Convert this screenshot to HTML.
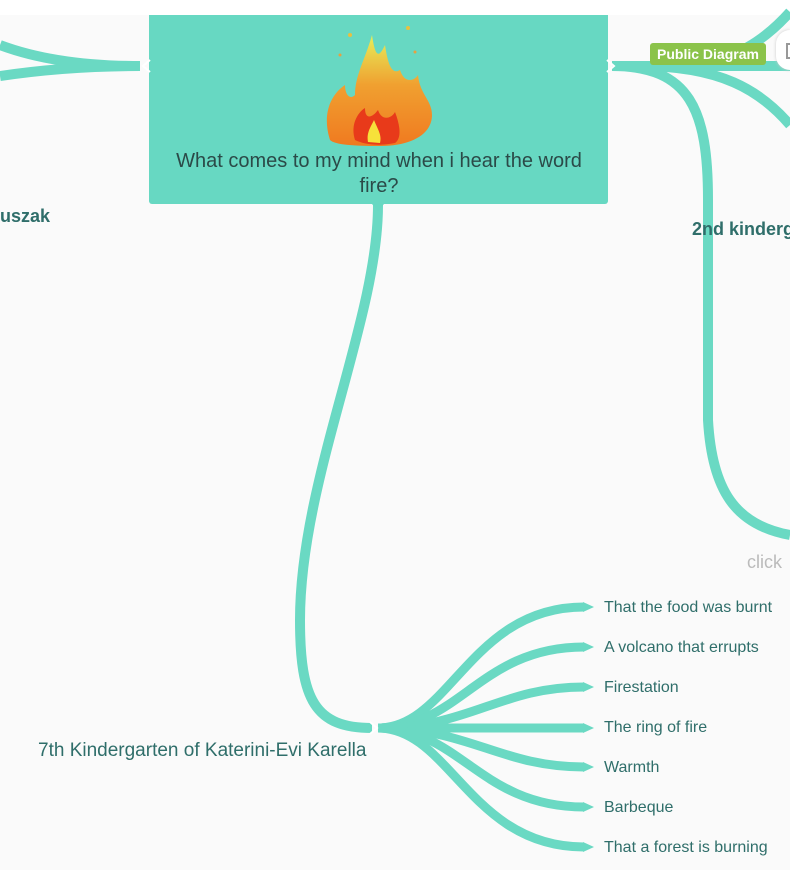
<!DOCTYPE html>
<html><head><meta charset="utf-8"><style>
html,body{margin:0;padding:0;overflow:hidden;width:790px;height:870px;}
body{background:#fafafa;font-family:"Liberation Sans",sans-serif;}
#w{position:relative;width:790px;height:870px;overflow:hidden;}
.t{position:absolute;white-space:nowrap;color:#2f6e6a;}
</style></head><body><div id="w">
<div style="position:absolute;left:0;top:0;width:790px;height:15px;background:#fff"></div>
<svg width="790" height="870" style="position:absolute;left:0;top:0" fill="none" stroke="#6ad9c3" stroke-linecap="butt">
<g stroke-width="10">
<path d="M140,66 C90,66 40,60 0,45"/>
<path d="M140,66 C90,66 40,70 0,76"/>
<path d="M378,205 C378,320 300,480 300,620 C300,700 315,728 372,728"/>
<path d="M612,66 L790,66"/>
<path d="M612,66 C690,66 708,110 708,200 L708,420 C712,490 735,525 790,535"/>
<path d="M640,66 C720,66 760,90 790,125"/>
<path d="M690,66 C735,60 765,40 790,12"/>
</g>
<g stroke-width="9">
<path d="M378,728 C450,728 470,607 584,607"/>
<path d="M378,728 C460,728 480,647 584,647"/>
<path d="M378,728 C470,728 500,687 584,687"/>
<path d="M378,728 L584,728"/>
<path d="M378,728 C470,728 500,767 584,767"/>
<path d="M378,728 C460,728 480,807 584,807"/>
<path d="M378,728 C450,728 470,847 584,847"/>
</g>
<g fill="#6ad9c3" stroke="none">
<polygon points="583,602 594,607 583,612"/><polygon points="583,642 594,647 583,652"/>
<polygon points="583,682 594,687 583,692"/><polygon points="583,723 594,728 583,733"/>
<polygon points="583,762 594,767 583,772"/><polygon points="583,802 594,807 583,812"/>
<polygon points="583,842 594,847 583,852"/>
</g>
<polyline points="370,722 377,728 370,734" stroke="#fff" stroke-width="2"/>
</svg>
<div style="position:absolute;left:149px;top:15px;width:459px;height:189px;background:#67d8c2;border-radius:0 0 3px 3px"></div>
<svg width="790" height="870" style="position:absolute;left:0;top:0">
<polyline points="150,60 143,66 150,72" stroke="#fff" stroke-width="2" fill="none"/>
<polyline points="607,60 614,66 607,72" stroke="#fff" stroke-width="2" fill="none"/>
<polygon points="372,204 384,204 378,211" fill="#67d8c2"/>
<defs><linearGradient id="f" x1="0" y1="0" x2="0" y2="1">
<stop offset="0" stop-color="#e6ef5a"/><stop offset="0.45" stop-color="#f0a030"/><stop offset="1" stop-color="#f07a20"/></linearGradient></defs>
<path d="M330,140 C322,115 330,95 345,85 C345,95 350,100 355,95 C355,75 365,60 372,35 C375,55 378,60 385,45 C388,65 392,75 400,70 C405,85 415,80 418,75 C420,95 432,100 432,115 C432,135 410,146 380,146 C355,146 335,145 330,140Z" fill="url(#f)"/>
<path d="M355,140 C350,125 358,112 365,108 C365,120 372,118 378,110 C382,122 392,118 395,112 C400,125 402,138 395,143 C380,146 365,145 355,140Z" fill="#e83a1a"/>
<path d="M368,142 C366,132 372,125 374,120 C378,130 382,135 380,143Z" fill="#f7e13a"/>
<circle cx="350" cy="35" r="2" fill="#e8c040"/><circle cx="408" cy="28" r="2" fill="#e8c040"/><circle cx="415" cy="52" r="1.5" fill="#e8a040"/><circle cx="340" cy="55" r="1.5" fill="#e8a040"/>
</svg>
<div class="t" style="left:159px;top:149px;width:440px;text-align:center;white-space:normal;font-size:20px;line-height:25px;color:#2b4a48">What comes to my mind when i hear the word fire?</div>
<div style="position:absolute;left:650px;top:43px;width:116px;height:22px;background:#8bc34a;border-radius:3px;color:#fff;font-weight:bold;font-size:14px;line-height:22px;text-align:center">Public Diagram</div>
<div style="position:absolute;left:776px;top:30px;width:14px;height:40px;border-radius:20px 0 0 20px;background:#fff;box-shadow:0 0 3px #ccc"></div>
<div style="position:absolute;left:786px;top:43px;width:4px;height:12px;border:2px solid #999;border-right:none"></div>
<div class="t" style="left:0;top:206px;font-size:18px;font-weight:bold;">uszak</div>
<div class="t" style="left:692px;top:219px;width:98px;overflow:hidden;font-size:18px;font-weight:bold;">2nd kindergarten</div>
<div class="t" style="left:747px;top:552px;font-size:18px;color:#bbb">click</div>
<div class="t" style="left:38px;top:740px;font-size:19px;">7th Kindergarten of Katerini-Evi Karella</div>
<div class="t" style="left:604px;top:599px;font-size:16px;">That the food was burnt</div>
<div class="t" style="left:604px;top:639px;font-size:16px;">A volcano that errupts</div>
<div class="t" style="left:604px;top:679px;font-size:16px;">Firestation</div>
<div class="t" style="left:604px;top:719px;font-size:16px;">The ring of fire</div>
<div class="t" style="left:604px;top:759px;font-size:16px;">Warmth</div>
<div class="t" style="left:604px;top:799px;font-size:16px;">Barbeque</div>
<div class="t" style="left:604px;top:839px;font-size:16px;">That a forest is burning</div>
</div></body></html>
